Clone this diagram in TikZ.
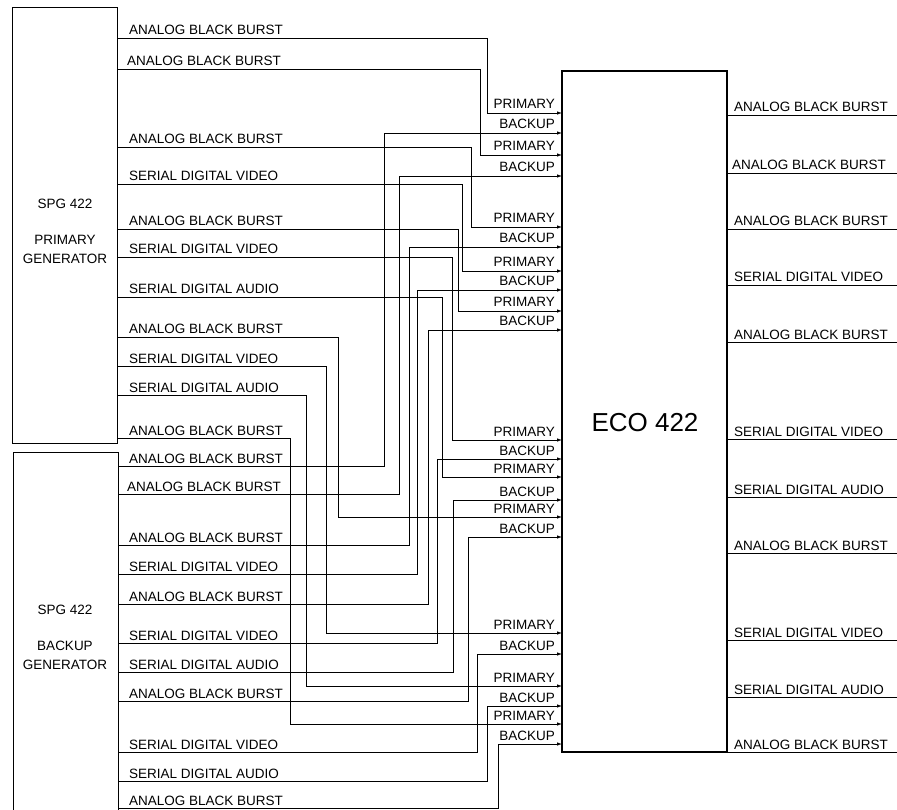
\documentclass[tikz,border=0pt]{standalone}
\usepackage{fontspec}
\setmainfont{Liberation Sans}
\usetikzlibrary{arrows.meta, positioning}

\newcommand{\sigfont}{\fontsize{13.5}{18.5}\selectfont}

\begin{document}
\begin{tikzpicture}[
  x=1pt, y=-1pt,
  genbox/.style={rectangle, draw=black, line width=1pt, minimum width=105pt, minimum height=435pt},
  ecobox/.style={rectangle, draw=black, line width=1.4pt, minimum width=165pt, minimum height=681pt},
  genlbl/.style={align=center, font=\sigfont, inner sep=0pt},
  sig/.style={anchor=base west, inner sep=0pt, font=\sigfont},
  port/.style={anchor=base east, inner sep=0pt, font=\sigfont},
  wire/.style={line width=0.75pt},
  feed/.style={line width=0.75pt, -{Latex[length=5pt,width=3.5pt]}}
]
\useasboundingbox (0,0) rectangle (897,810);

% Generators and changeover unit
\node (pri) [genbox] at (64.5,225.5) {};
\node (prilbl) [genlbl] at (65,231) {SPG 422\\[18pt]PRIMARY\\GENERATOR};
\draw [line width=1pt] (13,810) |- (118,452) -- (118,810);
\node (baklbl) [genlbl] at (65,637) {SPG 422\\[18pt]BACKUP\\GENERATOR};
\node (eco) [ecobox] at (644.5,411.5) {};
\node (ecolbl) [font=\fontsize{26}{30}\selectfont] at (645,423) {ECO 422};

% Primary generator outputs
\coordinate (po1) at (117,38);   \node (pl1) [sig] at (129,35) {ANALOG BLACK BURST};
\coordinate (po2) at (117,69);   \node (pl2) [sig] at (127,66) {ANALOG BLACK BURST};
\coordinate (po3) at (117,147);  \node (pl3) [sig] at (129,144) {ANALOG BLACK BURST};
\coordinate (po4) at (117,184);  \node (pl4) [sig] at (129,181) {SERIAL DIGITAL VIDEO};
\coordinate (po5) at (117,229);  \node (pl5) [sig] at (129,226) {ANALOG BLACK BURST};
\coordinate (po6) at (117,257);  \node (pl6) [sig] at (129,254) {SERIAL DIGITAL VIDEO};
\coordinate (po7) at (117,297);  \node (pl7) [sig] at (129,294) {SERIAL DIGITAL AUDIO};
\coordinate (po8) at (117,337);  \node (pl8) [sig] at (129,334) {ANALOG BLACK BURST};
\coordinate (po9) at (117,366);  \node (pl9) [sig] at (129,363) {SERIAL DIGITAL VIDEO};
\coordinate (po10) at (117,395); \node (pl10) [sig] at (129,392) {SERIAL DIGITAL AUDIO};
\coordinate (po11) at (117,438); \node (pl11) [sig] at (129,435) {ANALOG BLACK BURST};

% Backup generator outputs
\coordinate (bo1) at (118,466);  \node (bl1) [sig] at (129,463) {ANALOG BLACK BURST};
\coordinate (bo2) at (118,494);  \node (bl2) [sig] at (127,491) {ANALOG BLACK BURST};
\coordinate (bo3) at (118,545);  \node (bl3) [sig] at (129,542) {ANALOG BLACK BURST};
\coordinate (bo4) at (118,574);  \node (bl4) [sig] at (129,571) {SERIAL DIGITAL VIDEO};
\coordinate (bo5) at (118,604);  \node (bl5) [sig] at (129,601) {ANALOG BLACK BURST};
\coordinate (bo6) at (118,643);  \node (bl6) [sig] at (129,640) {SERIAL DIGITAL VIDEO};
\coordinate (bo7) at (118,672);  \node (bl7) [sig] at (129,669) {SERIAL DIGITAL AUDIO};
\coordinate (bo8) at (118,701);  \node (bl8) [sig] at (129,698) {ANALOG BLACK BURST};
\coordinate (bo9) at (118,752);  \node (bl9) [sig] at (129,749) {SERIAL DIGITAL VIDEO};
\coordinate (bo10) at (118,781); \node (bl10) [sig] at (129,778) {SERIAL DIGITAL AUDIO};
\coordinate (bo11) at (118,808); \node (bl11) [sig] at (129,805) {ANALOG BLACK BURST};

% ECO inputs
\coordinate (ei1) at (562,113);  \node (il1) [port] at (555,109) {PRIMARY};
\coordinate (ei2) at (562,133);  \node (il2) [port] at (555,129) {BACKUP};
\coordinate (ei3) at (562,155);  \node (il3) [port] at (555,151) {PRIMARY};
\coordinate (ei4) at (562,176);  \node (il4) [port] at (555,172) {BACKUP};
\coordinate (ei5) at (562,227);  \node (il5) [port] at (555,223) {PRIMARY};
\coordinate (ei6) at (562,247);  \node (il6) [port] at (555,243) {BACKUP};
\coordinate (ei7) at (562,271);  \node (il7) [port] at (555,267) {PRIMARY};
\coordinate (ei8) at (562,290);  \node (il8) [port] at (555,286) {BACKUP};
\coordinate (ei9) at (562,311);  \node (il9) [port] at (555,307) {PRIMARY};
\coordinate (ei10) at (562,330); \node (il10) [port] at (555,326) {BACKUP};
\coordinate (ei11) at (562,440); \node (il11) [port] at (555,436) {PRIMARY};
\coordinate (ei12) at (562,459); \node (il12) [port] at (555,455) {BACKUP};
\coordinate (ei13) at (562,477); \node (il13) [port] at (555,473) {PRIMARY};
\coordinate (ei14) at (562,500); \node (il14) [port] at (555,496) {BACKUP};
\coordinate (ei15) at (562,517); \node (il15) [port] at (555,513) {PRIMARY};
\coordinate (ei16) at (562,537); \node (il16) [port] at (555,533) {BACKUP};
\coordinate (ei17) at (562,633); \node (il17) [port] at (555,629) {PRIMARY};
\coordinate (ei18) at (562,654); \node (il18) [port] at (555,650) {BACKUP};
\coordinate (ei19) at (562,686); \node (il19) [port] at (555,682) {PRIMARY};
\coordinate (ei20) at (562,706); \node (il20) [port] at (555,702) {BACKUP};
\coordinate (ei21) at (562,724); \node (il21) [port] at (555,720) {PRIMARY};
\coordinate (ei22) at (562,744); \node (il22) [port] at (555,740) {BACKUP};

% ECO outputs
\coordinate (eo1) at (897,115);  \node (ol1) [sig] at (734,112) {ANALOG BLACK BURST};
\coordinate (eo2) at (897,173);  \node (ol2) [sig] at (732,170) {ANALOG BLACK BURST};
\coordinate (eo3) at (897,229);  \node (ol3) [sig] at (734,226) {ANALOG BLACK BURST};
\coordinate (eo4) at (897,285);  \node (ol4) [sig] at (734,282) {SERIAL DIGITAL VIDEO};
\coordinate (eo5) at (897,342);  \node (ol5) [sig] at (734,339) {ANALOG BLACK BURST};
\coordinate (eo6) at (897,439);  \node (ol6) [sig] at (734,436) {SERIAL DIGITAL VIDEO};
\coordinate (eo7) at (897,497);  \node (ol7) [sig] at (734,494) {SERIAL DIGITAL AUDIO};
\coordinate (eo8) at (897,553);  \node (ol8) [sig] at (734,550) {ANALOG BLACK BURST};
\coordinate (eo9) at (897,640);  \node (ol9) [sig] at (734,637) {SERIAL DIGITAL VIDEO};
\coordinate (eo10) at (897,697); \node (ol10) [sig] at (734,694) {SERIAL DIGITAL AUDIO};
\coordinate (eo11) at (897,752); \node (ol11) [sig] at (734,749) {ANALOG BLACK BURST};

% Primary feeds
\draw [feed] (po1) -| (487,0 |- ei1) -- (ei1);
\draw [feed] (po2) -| (480,0 |- ei3) -- (ei3);
\draw [feed] (po3) -| (471,0 |- ei5) -- (ei5);
\draw [feed] (po4) -| (462,0 |- ei7) -- (ei7);
\draw [feed] (po5) -| (458,0 |- ei9) -- (ei9);
\draw [feed] (po6) -| (452,0 |- ei11) -- (ei11);
\draw [feed] (po7) -| (442,0 |- ei13) -- (ei13);
\draw [feed] (po8) -| (338,0 |- ei15) -- (ei15);
\draw [feed] (po9) -| (326,0 |- ei17) -- (ei17);
\draw [feed] (po10) -| (306,0 |- ei19) -- (ei19);
\draw [feed] (po11) -| (290,0 |- ei21) -- (ei21);

% Backup feeds
\draw [feed] (bo1) -| (384,0 |- ei2) -- (ei2);
\draw [feed] (bo2) -| (399,0 |- ei4) -- (ei4);
\draw [feed] (bo3) -| (409,0 |- ei6) -- (ei6);
\draw [feed] (bo4) -| (417,0 |- ei8) -- (ei8);
\draw [feed] (bo5) -| (428,0 |- ei10) -- (ei10);
\draw [feed] (bo6) -| (437,0 |- ei12) -- (ei12);
\draw [feed] (bo7) -| (453,0 |- ei14) -- (ei14);
\draw [feed] (bo8) -| (468,0 |- ei16) -- (ei16);
\draw [feed] (bo9) -| (477,0 |- ei18) -- (ei18);
\draw [feed] (bo10) -| (487,0 |- ei20) -- (ei20);
\draw [feed] (bo11) -| (498,0 |- ei22) -- (ei22);

% Changeover outputs
\draw [wire] (eco.east |- eo1) -- (eo1);
\draw [wire] (eco.east |- eo2) -- (eo2);
\draw [wire] (eco.east |- eo3) -- (eo3);
\draw [wire] (eco.east |- eo4) -- (eo4);
\draw [wire] (eco.east |- eo5) -- (eo5);
\draw [wire] (eco.east |- eo6) -- (eo6);
\draw [wire] (eco.east |- eo7) -- (eo7);
\draw [wire] (eco.east |- eo8) -- (eo8);
\draw [wire] (eco.east |- eo9) -- (eo9);
\draw [wire] (eco.east |- eo10) -- (eo10);
\draw [wire] (eco.east |- eo11) -- (eo11);

\end{tikzpicture}
\end{document}
